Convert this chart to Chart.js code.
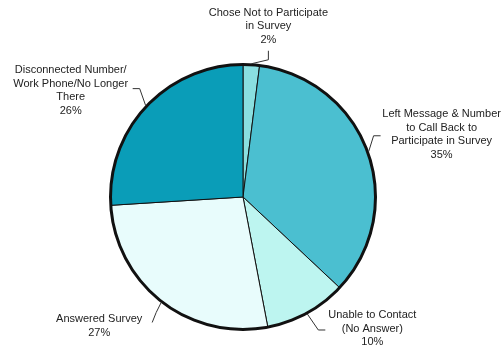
<!DOCTYPE html>
<html>
<head>
<meta charset="utf-8">
<script src="https://cdn.jsdelivr.net/npm/chart.js@4/dist/chart.umd.min.js"></script>
<style>
  body { margin: 0; background: #fff; }
  canvas { display: block; }
</style>
</head>
<body>
<canvas id="surveyPie" width="503" height="350"></canvas>
<script>
// slices clockwise from 12 o'clock
const categories = [
  ["Chose Not to Participate", "in Survey"],
  ["Left Message & Number", "to Call Back to", "Participate in Survey"],
  ["Unable to Contact", "(No Answer)"],
  ["Answered Survey"],
  ["Disconnected Number/", "Work Phone/No Longer", "There"]
];
const percentValues = [2, 35, 10, 27, 26];
const sliceColors = ["#8adfe0", "#4bbfd0", "#bdf5f0", "#e8fcfc", "#0a9db8"];

// label placement relative to the slice's mid point on the rim: elbow, leader end, text centre (last line)
const labelLayout = [
  { elbow: [17, -4], end: [17, -13], text: [17, -24] },
  { elbow: [5, -16], end: [12, -16], text: [73, 3] },
  { elbow: [11, 16], end: [18, 16], text: [65, 28] },
  { elbow: [-5, 10], end: [-9, 20], text: [-62, 30] },
  { elbow: [-6, -17], end: [-13, -17], text: [-75, 5] }
];

const leaderLabels = {
  id: 'leaderLabels',
  afterDatasetsDraw(chart) {
    const ctx = chart.ctx;
    const arcs = chart.getDatasetMeta(0).data;
    ctx.save();
    // heavy outer rim
    const a0 = arcs[0];
    ctx.beginPath();
    ctx.arc(a0.x, a0.y, a0.outerRadius, 0, Math.PI * 2);
    ctx.lineWidth = 3;
    ctx.strokeStyle = '#111';
    ctx.stroke();

    ctx.font = "11px 'Liberation Sans', Arial, sans-serif";
    ctx.fillStyle = '#222';
    ctx.textAlign = 'center';
    ctx.textBaseline = 'middle';
    arcs.forEach((arc, i) => {
      const mid = (arc.startAngle + arc.endAngle) / 2;
      const r = arc.outerRadius + 1;
      const px = arc.x + Math.cos(mid) * r;
      const py = arc.y + Math.sin(mid) * r;
      const lay = labelLayout[i];
      ctx.beginPath();
      ctx.moveTo(px, py);
      ctx.lineTo(px + lay.elbow[0], py + lay.elbow[1]);
      ctx.lineTo(px + lay.end[0], py + lay.end[1]);
      ctx.lineWidth = 1;
      ctx.strokeStyle = '#333';
      ctx.stroke();

      const lines = categories[i].concat([percentValues[i] + '%']);
      const lh = 13.5;
      const tx = px + lay.text[0];
      const ty = py + lay.text[1];
      lines.forEach((ln, k) => {
        ctx.fillText(ln, tx, ty - (lines.length - 1 - k) * lh);
      });
    });
    ctx.restore();
  }
};

new Chart('surveyPie', {
  type: 'pie',
  data: {
    labels: categories.map(c => c.join(' ')),
    datasets: [{
      data: percentValues,
      backgroundColor: sliceColors,
      borderColor: '#111',
      borderWidth: 1
    }]
  },
  options: {
    responsive: false,
    animation: false,
    devicePixelRatio: 1,
    layout: { padding: { left: 110, right: 127, top: 64, bottom: 20 } },
    plugins: {
      legend: { display: false },
      tooltip: { enabled: false }
    }
  },
  plugins: [leaderLabels]
});
</script>
</body>
</html>
